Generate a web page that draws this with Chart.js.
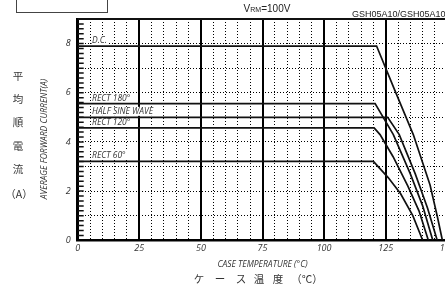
<!DOCTYPE html>
<html>
<head>
<meta charset="utf-8">
<script src="https://cdn.jsdelivr.net/npm/chart.js@4.4.0/dist/chart.umd.min.js"></script>
<style>
  html, body { margin: 0; padding: 0; background: #fff; overflow: hidden; width: 445px; height: 285px; }
  #wrap { position: absolute; left: 0; top: 0; width: 460px; height: 285px; }
  .t { position: absolute; white-space: nowrap; color: #222; transform: translate(-50%, -50%); }
  .sans { font-family: "Liberation Sans", Arial, sans-serif; }
  .it { font-family: "Open Sans", sans-serif; font-style: italic; font-size: 8px; color: #333; }
  .jp { font-family: "Noto Sans CJK JP", sans-serif; font-size: 10.5px; color: #333; }
</style>
</head>
<body>
<div id="wrap"><canvas id="myChart"></canvas></div>

<div style="position:absolute;left:16px;top:-1px;width:90px;height:12px;border:1px solid #444;"></div>
<div class="t sans" style="left:267px;top:8px;font-size:10px;">V<span style="font-size:7px;">RM</span>=100V</div>
<div class="t sans" style="left:352px;top:14px;font-size:9px;transform:translate(0,-50%);">GSH05A10/GSH05A10E</div>

<div class="t it" style="left:43px;top:139px;font-size:8.5px;transform:translate(-50%,-50%) rotate(-90deg);">AVERAGE FORWARD CURRENT(A)</div>

<div class="t jp" style="left:18px;top:75px;">平</div>
<div class="t jp" style="left:18px;top:98px;">均</div>
<div class="t jp" style="left:18px;top:121px;">順</div>
<div class="t jp" style="left:18px;top:145px;">電</div>
<div class="t jp" style="left:18px;top:168px;">流</div>
<div class="t jp" style="left:19px;top:193px;">（A）</div>

<div class="t jp" style="left:199px;top:278px;">ケ</div>
<div class="t jp" style="left:220px;top:278px;">ー</div>
<div class="t jp" style="left:241px;top:278px;">ス</div>
<div class="t jp" style="left:259px;top:278px;">温</div>
<div class="t jp" style="left:278px;top:278px;">度</div>
<div class="t jp" style="left:307px;top:278px;">（℃）</div>

<script>
// derating curves: case temperature (°C) vs average forward current (A)
const dcTemp = [0, 121.3, 128.5, 136.2, 140, 143, 146, 148];
const dcCurrent = [7.9, 7.9, 6.15, 4.3, 3.15, 2.25, 0.95, 0];

const rect180Temp = [0, 120.7, 128.1, 135, 140, 144.1];
const rect180Current = [5.56, 5.56, 4.3, 2.7, 1.4, 0];

const halfSineTemp = [0, 125.8, 130.5, 137, 142, 145.9];
const halfSineCurrent = [5.0, 5.0, 4.3, 2.7, 1.3, 0];

const rect120Temp = [0, 120.3, 122.7, 128, 134, 138.5, 142.3];
const rect120Current = [4.57, 4.57, 4.3, 3.4, 2.2, 1.2, 0];

const rect60Temp = [0, 120, 126, 131, 136, 140];
const rect60Current = [3.21, 3.21, 2.55, 1.9, 1.0, 0];

const curveLabels = ['D.C.', 'RECT 180°', 'HALF SINE WAVE', 'RECT 120°', 'RECT 60°'];
const xTickLabels = [0, 25, 50, 75, 100, 125, 150];
const yTickLabels = [0, 2, 4, 6, 8];

const series = [
  [dcTemp, dcCurrent],
  [rect180Temp, rect180Current],
  [halfSineTemp, halfSineCurrent],
  [rect120Temp, rect120Current],
  [rect60Temp, rect60Current]
];

const datasets = series.map((s, i) => ({
  label: curveLabels[i],
  data: s[0].map((t, k) => ({ x: t, y: s[1][k] })),
  showLine: true,
  borderColor: '#111',
  borderWidth: 1.7,
  pointRadius: 0,
  tension: 0
}));

// white-backed curve labels, minor ticks on the left axis, top frame
const extras = {
  id: 'extras',
  beforeDatasetsDraw(chart) {
    const { ctx, chartArea: a, scales: { x, y } } = chart;
    ctx.save();
    ctx.strokeStyle = '#111';
    ctx.lineWidth = 2;
    ctx.beginPath();
    ctx.moveTo(a.left, a.top);
    ctx.lineTo(a.right, a.top);
    ctx.stroke();

    ctx.lineWidth = 1.5;
    ctx.beginPath();
    for (let i = 1; i < 45; i++) {
      const py = y.getPixelForValue(i / 5);
      ctx.moveTo(a.left, py);
      ctx.lineTo(a.left + 6, py);
    }
    ctx.stroke();

    ctx.font = 'italic 8.5px "Open Sans"';
    ctx.textBaseline = 'alphabetic';
    series.forEach((s, i) => {
      const py = y.getPixelForValue(s[1][0]);
      const px = x.getPixelForValue(5) + 1.5;
      const w = ctx.measureText(curveLabels[i]).width;
      ctx.fillStyle = '#fff';
      ctx.fillRect(px, py - 10.5, w + 2, 9);
      ctx.fillStyle = '#333';
      ctx.fillText(curveLabels[i], px + 0.5, py - 3);
    });
    ctx.restore();
  }
};

const tickFont = { family: 'Open Sans', style: 'italic', size: 9 };

const ctx = document.getElementById('myChart').getContext('2d');
const myChart = new Chart(ctx, {
  type: 'scatter',
  data: { datasets: datasets },
  options: {
    responsive: true,
    maintainAspectRatio: false,
    animation: false,
    layout: { padding: { left: 0, right: 12.7, top: 19, bottom: 0 } },
    plugins: { legend: { display: false }, tooltip: { enabled: false } },
    scales: {
      x: {
        type: 'linear',
        min: 0,
        max: 150,
        afterFit: s => { s.height = 44.7; },
        ticks: {
          stepSize: 5,
          autoSkip: false,
          maxRotation: 0,
          padding: 3,
          color: '#333',
          font: tickFont,
          callback: v => xTickLabels.includes(v) ? v : ''
        },
        grid: {
          color: '#000',
          drawTicks: false,
          lineWidth: c => c.tick.value === 0 ? 0 : (c.tick.value % 25 === 0 ? 2 : 1)
        },
        border: {
          color: '#000',
          width: 2.5,
          dash: c => (c.tick && c.tick.value % 25 !== 0) ? [1, 2] : []
        },
        title: {
          display: true,
          text: 'CASE TEMPERATURE (°C)',
          color: '#333',
          font: { family: 'Open Sans', style: 'italic', size: 8.5 },
          padding: { top: 0, bottom: 15 }
        }
      },
      y: {
        min: 0,
        max: 9,
        afterFit: s => { s.width = 77.7; },
        ticks: {
          stepSize: 1,
          padding: 7,
          color: '#333',
          font: tickFont,
          callback: v => yTickLabels.includes(v) ? v : ''
        },
        grid: {
          color: '#000',
          drawTicks: false,
          lineWidth: c => (c.tick.value === 0 || c.tick.value === 9) ? 0 : 1
        },
        border: {
          color: '#000',
          width: 3,
          dash: c => c.tick ? [1, 2] : []
        }
      }
    }
  },
  plugins: [extras]
});
</script>
</body>
</html>
